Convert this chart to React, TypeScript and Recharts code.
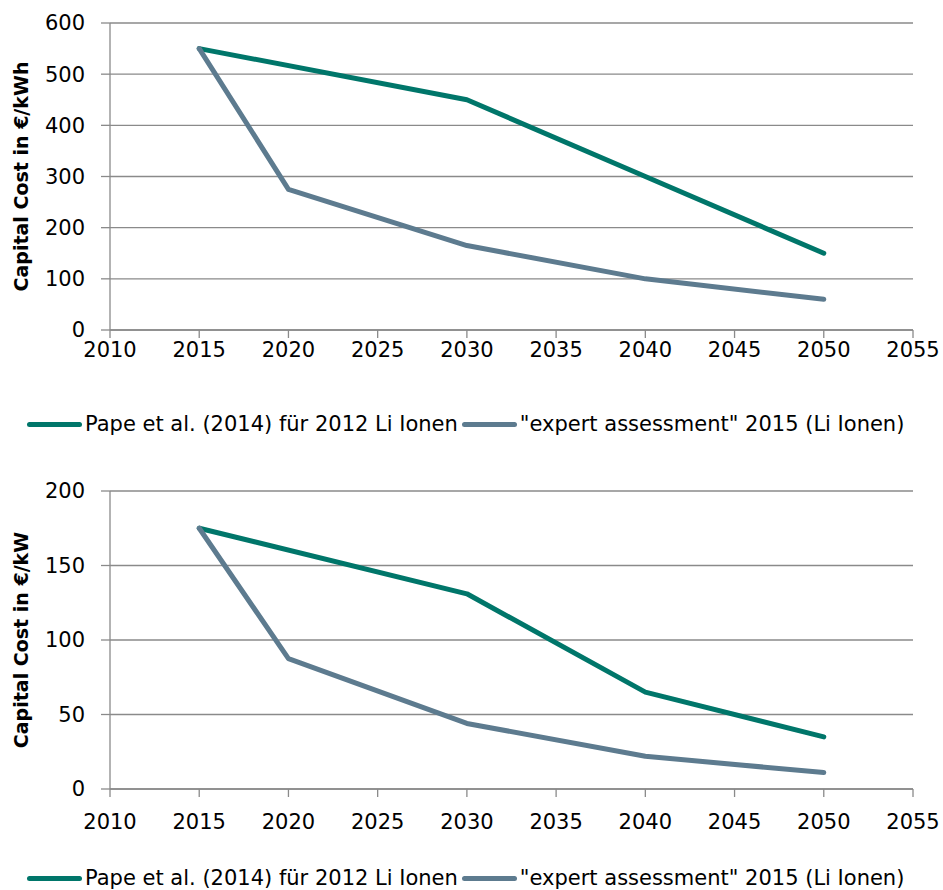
import React from "react";
import { LineChart, Line, XAxis, YAxis, CartesianGrid, Legend } from "recharts";

const yearTicks = [2010, 2015, 2020, 2025, 2030, 2035, 2040, 2045, 2050, 2055];
const energyTicks = [0, 100, 200, 300, 400, 500, 600];
const powerTicks = [0, 50, 100, 150, 200];

const papeEnergy = [
  { year: 2015, v: 550 },
  { year: 2030, v: 450 },
  { year: 2040, v: 300 },
  { year: 2050, v: 150 },
];
const expertEnergy = [
  { year: 2015, v: 550 },
  { year: 2020, v: 275 },
  { year: 2030, v: 165 },
  { year: 2040, v: 100 },
  { year: 2050, v: 60 },
];
const papePower = [
  { year: 2015, v: 175 },
  { year: 2030, v: 131 },
  { year: 2040, v: 65 },
  { year: 2050, v: 35 },
];
const expertPower = [
  { year: 2015, v: 175 },
  { year: 2020, v: 87.5 },
  { year: 2030, v: 44 },
  { year: 2040, v: 22 },
  { year: 2050, v: 11 },
];

const seriesNames = ["Pape et al. (2014) für 2012 Li Ionen", '"expert assessment" 2015 (Li Ionen)'];
const GREEN = "#00766A";
const BLUE = "#5D7B8F";
const AXIS = "#8a8a8a";
const FONT = "DejaVu Sans, sans-serif";

const LegendContent = () => (
  <div style={{ display: "flex", alignItems: "center", fontFamily: FONT, fontSize: 21, color: "#000", height: 26, paddingLeft: 27 }}>
    {[GREEN, BLUE].map((c, i) => (
      <React.Fragment key={i}>
        <span style={{ display: "inline-block", width: 55, height: 5, borderRadius: 3, background: c, marginRight: 3 }} />
        <span style={{ marginRight: 4, whiteSpace: "nowrap" }}>{seriesNames[i]}</span>
      </React.Fragment>
    ))}
  </div>
);

const makeYLabel = (text: string) => (props: any) => {
  const vb = props.viewBox || {};
  const cy = vb.y + vb.height / 2;
  const cx = 21;
  return (
    <text x={cx} y={cy} transform={`rotate(-90, ${cx}, ${cy})`} textAnchor="middle" dominantBaseline="central"
      fontFamily={FONT} fontSize={19} fontWeight="bold" fill="#000">
      {text}
    </text>
  );
};

type PanelProps = {
  top: number;
  height: number;
  marginTop: number;
  marginBottom: number;
  xHeight: number;
  xTickMargin: number;
  yTicks: number[];
  yMax: number;
  label: string;
  pape: { year: number; v: number }[];
  expert: { year: number; v: number }[];
};

const Panel = (p: PanelProps) => (
  <div style={{ position: "absolute", left: 0, top: p.top }}>
    <LineChart width={943} height={p.height} margin={{ top: p.marginTop, right: 30, bottom: p.marginBottom, left: 0 }}>
      <CartesianGrid vertical={false} stroke={AXIS} strokeWidth={1.3} />
      <XAxis
        type="number"
        dataKey="year"
        domain={[2010, 2055]}
        ticks={yearTicks}
        interval={0}
        height={p.xHeight}
        tickSize={8}
        tickMargin={p.xTickMargin}
        stroke={AXIS}
        strokeWidth={1.3}
        tick={{ fill: "#000", fontFamily: FONT, fontSize: 21 }}
        allowDataOverflow
      />
      <YAxis
        type="number"
        domain={[0, p.yMax]}
        ticks={p.yTicks}
        interval={0}
        width={110}
        tickSize={9}
        tickMargin={16}
        stroke={AXIS}
        strokeWidth={1.3}
        tick={{ fill: "#000", fontFamily: FONT, fontSize: 21 }}
        label={{ content: makeYLabel(p.label) }}
      />
      <Legend verticalAlign="bottom" align="left" content={<LegendContent />} wrapperStyle={{ left: 0, height: 26 }} />
      <Line data={p.pape} dataKey="v" name={seriesNames[0]} type="linear" stroke={GREEN} strokeWidth={5}
        strokeLinecap="round" strokeLinejoin="round" dot={false} activeDot={false} isAnimationActive={false} />
      <Line data={p.expert} dataKey="v" name={seriesNames[1]} type="linear" stroke={BLUE} strokeWidth={5}
        strokeLinecap="round" strokeLinejoin="round" dot={false} activeDot={false} isAnimationActive={false} />
    </LineChart>
  </div>
);

export default function App() {
  return (
    <div style={{ position: "absolute", left: 0, top: 0, width: 943, height: 890, background: "#fff" }}>
      <Panel top={0} height={450} marginTop={23} marginBottom={13} xHeight={81} xTickMargin={4}
        yTicks={energyTicks} yMax={600} label="Capital Cost in €/kWh" pape={papeEnergy} expert={expertEnergy} />
      <Panel top={450} height={450} marginTop={41} marginBottom={9} xHeight={76} xTickMargin={17}
        yTicks={powerTicks} yMax={200} label="Capital Cost in €/kW" pape={papePower} expert={expertPower} />
    </div>
  );
}
